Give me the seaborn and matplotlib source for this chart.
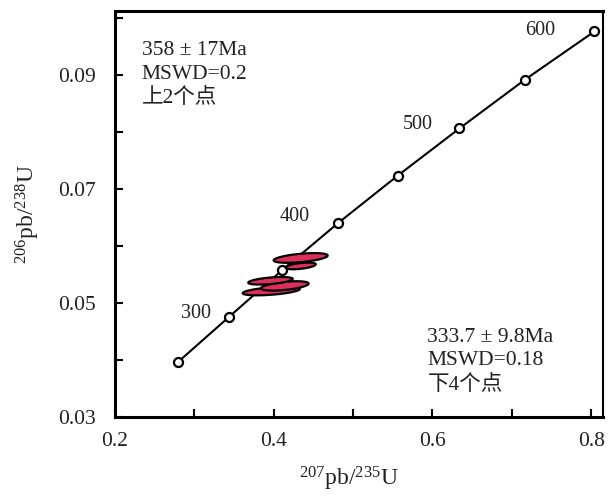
import numpy as np
import pandas as pd
import matplotlib
matplotlib.use("Agg")
import matplotlib.pyplot as plt
import seaborn as sns

# concordia reference points (Ma)
ages = [250, 300, 350, 400, 450, 500, 550, 600]
pb207_u235 = [0.279, 0.344, 0.411, 0.481, 0.556, 0.634, 0.716, 0.804]
pb206_u238 = [0.0396, 0.0476, 0.0558, 0.0640, 0.0723, 0.0806, 0.0891, 0.0976]
labelled_ages = [300, 400, 500, 600]

# zircon analyses: centre, half-widths and error correlation
ell_x = [0.434, 0.434, 0.397, 0.414, 0.396]
ell_y = [0.0579, 0.0565, 0.0521, 0.0530, 0.0539]
ell_sx = [0.034, 0.019, 0.036, 0.030, 0.028]
ell_sy = [0.00085, 0.00058, 0.00075, 0.00082, 0.00066]
ell_rho = [0.5, 0.5, 0.5, 0.5, 0.5]

upper_text = ["358 ± 17Ma", "MSWD=0.2", "上2个点"]
lower_text = ["333.7 ± 9.8Ma", "MSWD=0.18", "下4个点"]

sns.set_theme(style="ticks")
plt.rcParams["font.family"] = ["Liberation Serif", "Noto Sans CJK SC"]
plt.rcParams["mathtext.fontset"] = "custom"
plt.rcParams["mathtext.rm"] = "Liberation Serif"
plt.rcParams["mathtext.it"] = "Liberation Serif"

fig = plt.figure(figsize=(6.08, 4.96), dpi=100)
ax = fig.add_axes([0.189, 0.159, 0.803, 0.819])

conc = pd.DataFrame({"age": ages, "x": pb207_u235, "y": pb206_u238})
sns.lineplot(data=conc, x="x", y="y", sort=False, color="black", lw=1.5,
             marker="o", markersize=6.5, markerfacecolor="white",
             markeredgecolor="black", markeredgewidth=1.6, ax=ax, zorder=2)

offsets = {300: (-13, 2), 400: (-20, 5), 500: (-19, 3), 600: (-28, 1)}
for a in labelled_ages:
    row = conc[conc["age"] == a].iloc[0]
    ax.annotate(str(a), (row["x"], row["y"]), xytext=offsets[a],
                textcoords="offset points", ha="right", va="center",
                fontsize=14.5, color="#222222")

t = np.linspace(0, 2 * np.pi, 200)
for cx, cy, sx, sy, r in zip(ell_x, ell_y, ell_sx, ell_sy, ell_rho):
    ex = cx + sx * np.cos(t)
    ey = cy + sy * (r * np.cos(t) + np.sqrt(1 - r ** 2) * np.sin(t))
    ax.fill(ex, ey, facecolor="#DC2F5C", edgecolor="black", lw=1.6, zorder=3)

ax.set_xlim(0.2, 0.815)
ax.set_ylim(0.03, 0.1012)
ax.set_xticks([0.2, 0.4, 0.6, 0.8])
ax.set_xticks([0.3, 0.5, 0.7], minor=True)
ax.set_yticks([0.03, 0.05, 0.07, 0.09])
ax.set_yticks([0.04, 0.06, 0.08, 0.10], minor=True)
ax.set_xticklabels(["0.2", "0.4", "0.6", "0.8"])
ax.set_yticklabels(["0.03", "0.05", "0.07", "0.09"])
ax.tick_params(which="both", direction="in", length=6, width=1.5,
               labelsize=15.5, colors="black", labelcolor="#222222")
ax.tick_params(axis="x", pad=11)
ax.tick_params(axis="y", pad=14)

for side in ["left", "bottom", "top"]:
    ax.spines[side].set_linewidth(2.2)
ax.spines["right"].set_linewidth(1.5)
for s in ax.spines.values():
    s.set_color("black")

ax.set_xlabel("$^{207}$pb/$^{235}$U", fontsize=17, color="#222222")
ax.set_ylabel("$^{206}$pb/$^{238}$U", fontsize=17, color="#222222")
ax.xaxis.set_label_coords(0.48, -0.118)
ax.yaxis.set_label_coords(-0.15, 0.5)

ax.text(0.055, 0.925, "\n".join(upper_text), transform=ax.transAxes,
        ha="left", va="top", fontsize=15.5, linespacing=1.3, color="#222222")
ax.text(0.64, 0.22, "\n".join(lower_text), transform=ax.transAxes,
        ha="left", va="top", fontsize=15.5, linespacing=1.3, color="#222222")

fig.savefig("out.png", dpi=100)
